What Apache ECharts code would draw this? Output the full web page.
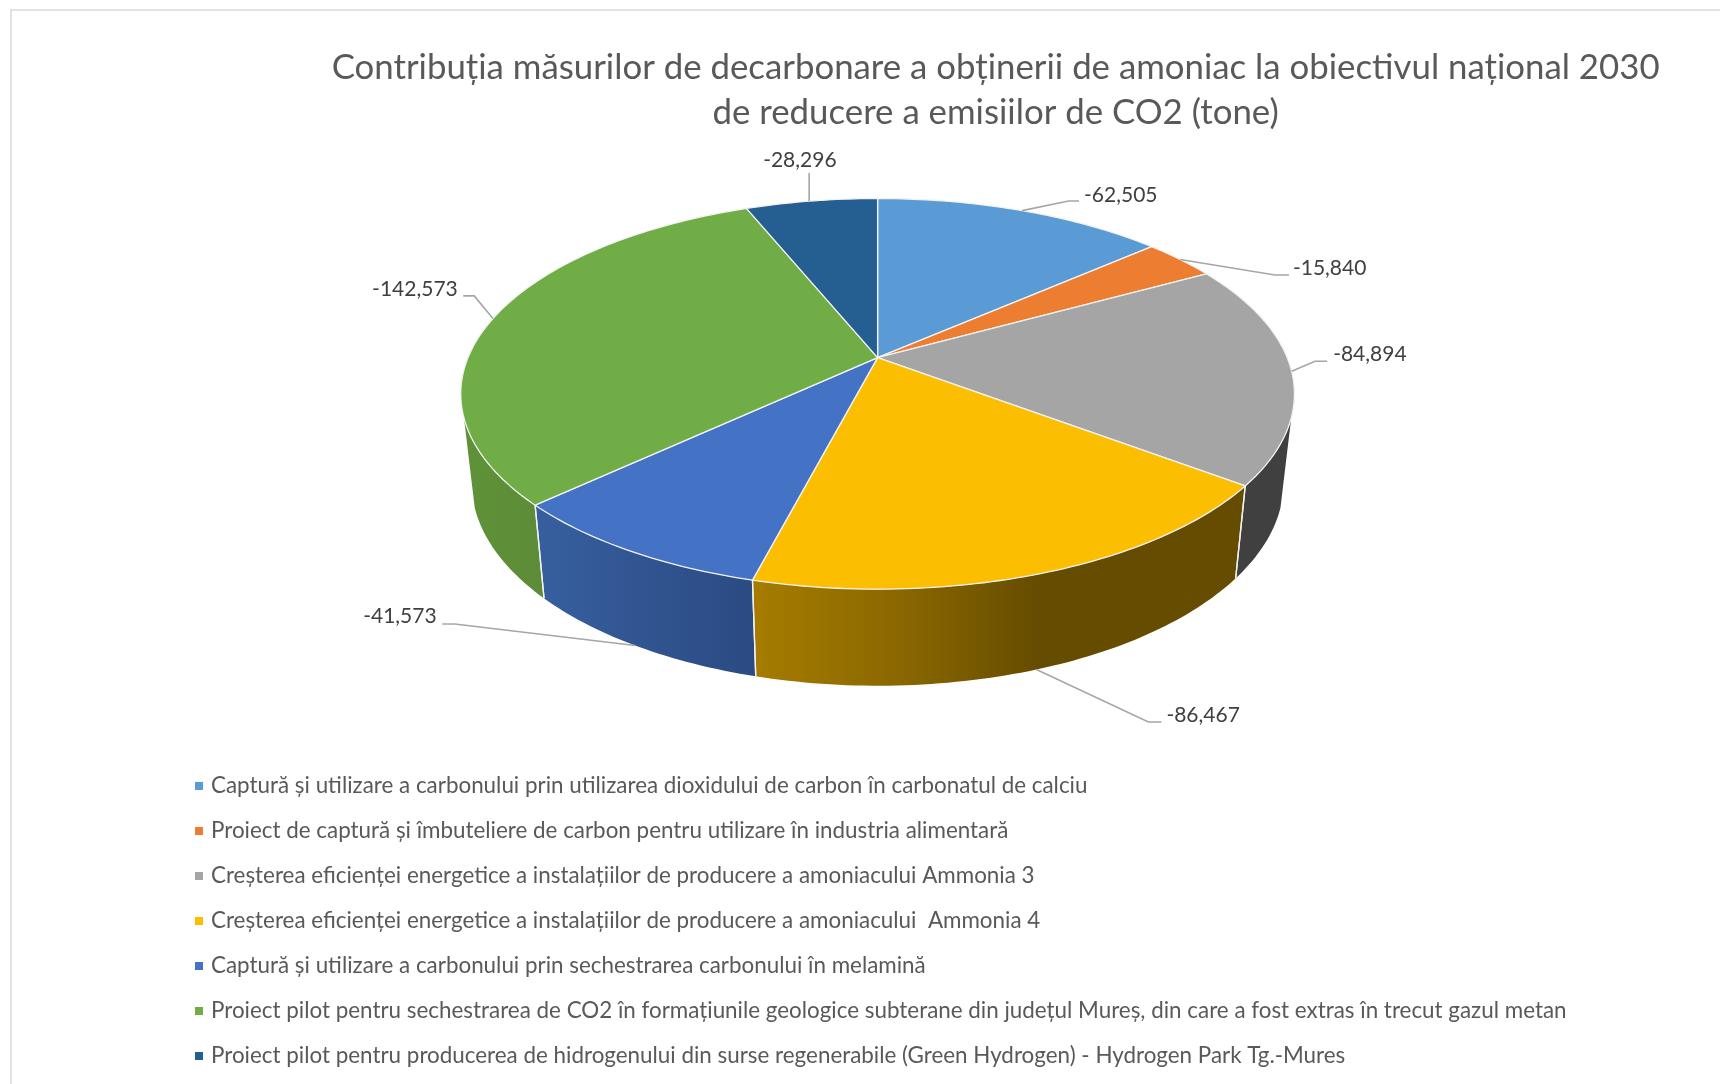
<!DOCTYPE html>
<html><head><meta charset="utf-8">
<style>html,body{margin:0;padding:0;background:#fff}#c{width:1720px;height:1084px}</style>
<script src="https://cdn.jsdelivr.net/npm/echarts@6/dist/echarts.min.js"></script>
</head><body><div id="c"></div>
<script>
const titleText = 'Contribuția măsurilor de decarbonare a obținerii de amoniac la obiectivul național 2030\nde reducere a emisiilor de CO2 (tone)';
const categories = [
 'Captură și utilizare a carbonului prin utilizarea dioxidului de carbon în carbonatul de calciu',
 'Proiect de captură și îmbuteliere de carbon pentru utilizare în industria alimentară',
 'Creșterea eficienței energetice a instalațiilor de producere a amoniacului Ammonia 3',
 'Creșterea eficienței energetice a instalațiilor de producere a amoniacului  Ammonia 4',
 'Captură și utilizare a carbonului prin sechestrarea carbonului în melamină',
 'Proiect pilot pentru sechestrarea de CO2 în formațiunile geologice subterane din județul Mureș, din care a fost extras în trecut gazul metan',
 'Proiect pilot pentru producerea de hidrogenului din surse regenerabile (Green Hydrogen) - Hydrogen Park Tg.-Mures'
];
const values = [-62505,-15840,-84894,-86467,-41573,-142573,-28296];
const colors = ['#5B9BD5','#ED7D31','#A5A5A5','#FBBE00','#4472C4','#70AD47','#255E91'];
const wallStops = [null,null,[[0,'#404040'],[1,'#404040']],
  [[0,'#A67C00'],[0.3,'#8A6700'],[0.58,'#664C00'],[1,'#664C00']],
  [[0,'#375F9F'],[1,'#2B4A82']],[[0,'#5F9238'],[1,'#5D8C38']],null];
// leader layout: offsets from the slice's rim anchor
const leaderOnWall = [false,false,false,true,true,false,false];
const leaderOff = [
 {s:[0,0],e:[46.5,-9.6],f:[57,-9.6],l:[62,-15.6],a:'left'},
 {s:[0,0],e:[94.7,15.5],f:[108.7,15.5],l:[112.7,8.5],a:'left'},
 {s:[0,0],e:[23.5,-10],f:[35.5,-10],l:[41.5,-17],a:'left'},
 {s:[0,0],e:[112,52.4],f:[125,52.4],l:[130,45.4],a:'left'},
 {s:[0,0],e:[-180.6,-21.6],f:[-192.9,-21.6],l:[-198.6,-28.9],a:'right'},
 {s:[0,0],e:[-18.7,-22.7],f:[-29.7,-22.7],l:[-35.2,-29.4],a:'right'},
 {s:[-2.2,0],e:[-2.2,-28],f:[-2.2,-28],l:[-11.5,-41],a:'center'}
];
// perspective projection of the pie disc
const CX=877.6, CY=357.6, A=188.6, C=409.6, K=0.1855;
const VIS_LO=107.6, VIS_HI=252.4;
const FONT='Lato, "Noto Sans", sans-serif';
const total = values.reduce((s,v)=>s+Math.abs(v),0);
const fmt = v => '-' + Math.abs(v).toLocaleString('en-US');
function project(deg){const r=deg*Math.PI/180,u=Math.sin(r),v=Math.cos(r),d=1+K*v;return [C*u/d,A*v/d];}
function topPt(deg){const p=project(deg);return [CX+p[0],CY-p[1]];}
function botPt(deg){const p=project(deg);return [CX+p[0]*0.974,CY-(1.04*p[1]-87.3)];}
function arc(fn,a,b){const pts=[],n=Math.max(2,Math.ceil(Math.abs(b-a)));for(let i=0;i<=n;i++)pts.push(fn(a+(b-a)*i/n));return pts;}

function renderSlice(index){
  return function(params,api){
    const val=Math.abs(api.value(0));
    let before=0;for(let k=0;k<index;k++)before+=Math.abs(values[k]);
    const s=before/total*360,e=(before+val)/total*360,m=(s+e)/2;
    const ch=[];
    // wall
    const lo=Math.max(s,VIS_LO),hi=Math.min(e,VIS_HI);
    if(hi>lo && wallStops[index]){
      const pts=arc(topPt,lo,hi).concat(arc(botPt,hi,lo));
      ch.push({type:'polygon',z2:1,shape:{points:pts},style:{fill:new echarts.graphic.LinearGradient(0,0,1,0,wallStops[index].map(x=>({offset:x[0],color:x[1]})))}});
      [s,e].forEach(t=>{ if(t>VIS_LO&&t<VIS_HI) ch.push({type:'polyline',z2:3,shape:{points:[topPt(t),botPt(t)]},style:{fill:null,stroke:'#F2F2F2',lineWidth:1.3}}); });
    }
    // top face
    const face=[[CX,CY]].concat(arc(topPt,s,e));
    ch.push({type:'polygon',z2:4,shape:{points:face},style:{fill:colors[index],stroke:'#F2F2F2',lineWidth:1.3,lineJoin:'round'}});
    // leader + value label
    const anc=(leaderOnWall[index]?botPt:topPt)(m),o=leaderOff[index];
    ch.push({type:'polyline',z2:5,shape:{points:[[anc[0]+o.s[0],anc[1]+o.s[1]],[anc[0]+o.e[0],anc[1]+o.e[1]],[anc[0]+o.f[0],anc[1]+o.f[1]]]},style:{fill:null,stroke:'#A6A6A6',lineWidth:1.6}});
    ch.push({type:'text',z2:6,style:{text:fmt(values[index]),x:anc[0]+o.l[0],y:anc[1]+o.l[1],fill:'#404040',font:'21px '+FONT,textAlign:o.a,textVerticalAlign:'middle',verticalAlign:'middle'}});
    return {type:'group',children:ch};
  };
}
const chart=echarts.init(document.getElementById('c'),null,{renderer:'canvas'});
chart.setOption({
  animation:false,
  backgroundColor:'#fff',
  color:colors,
  title:{text:titleText,left:990.6,top:40,textAlign:'center',textStyle:{color:'#595959',fontFamily:FONT,fontWeight:'normal',fontSize:34.8,lineHeight:45}},
  legend:{orient:'vertical',left:195,top:772,icon:'rect',itemWidth:8,itemHeight:8,itemGap:17,
    data:categories.map(n=>({name:n,icon:'rect'})),
    textStyle:{color:'#595959',fontFamily:FONT,fontSize:22.4,lineHeight:28,padding:[0,0,0,3]},itemStyle:{borderWidth:0},selectedMode:false,padding:0,formatter:n=>n},
  graphic:[{type:'rect',silent:true,shape:{x:11,y:10,width:1800,height:1200},style:{fill:'none',stroke:'#D9D9D9',lineWidth:1.5},z:-1}],
  series:categories.map((n,i)=>({type:'custom',name:n,coordinateSystem:'none',silent:true,itemStyle:{color:colors[i]},data:[[values[i]]],renderItem:renderSlice(i)}))
});
</script></body></html>
